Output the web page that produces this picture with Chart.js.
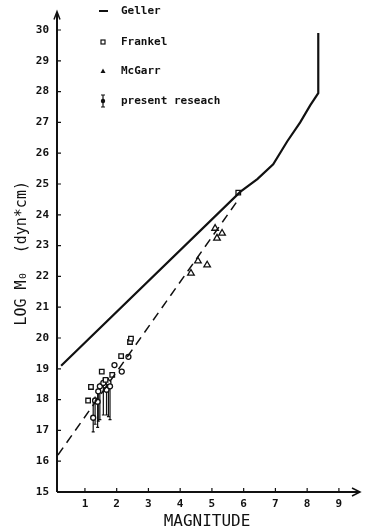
<!DOCTYPE html>
<html>
<head>
<meta charset="utf-8">
<script src="https://cdn.jsdelivr.net/npm/chart.js@4"></script>
<style>
  html, body { margin: 0; padding: 0; background: #fff; }
</style>
</head>
<body>
<canvas id="chart" width="370" height="531"></canvas>
<script>
// tick labels
const xTicks = [1, 2, 3, 4, 5, 6, 7, 8, 9];
const yTicks = [15, 16, 17, 18, 19, 20, 21, 22, 23, 24, 25, 26, 27, 28, 29, 30];

// Geller curve
const gellerMag = [0.25, 5.9, 6.43, 6.93, 7.37, 7.78, 8.1, 8.35, 8.35];
const gellerLog = [19.1, 24.75, 25.16, 25.64, 26.38, 27.0, 27.56, 27.95, 29.9];

// dashed fit line
const fitMag = [0.15, 5.8];
const fitLog = [16.2, 24.45];

// Frankel (squares)
const frankelMag = [1.10, 1.19, 1.53, 1.65, 1.86, 2.14, 2.42, 2.45, 5.83];
const frankelLog = [17.97, 18.41, 18.91, 18.64, 18.8, 19.41, 19.87, 19.98, 24.72];

// McGarr (triangles)
const mcgarrMag = [4.34, 4.56, 4.85, 5.10, 5.16, 5.32];
const mcgarrLog = [22.1, 22.5, 22.37, 23.56, 23.24, 23.4];

// present research (circles with error bars)
const presMag  = [1.26, 1.32, 1.40, 1.42, 1.47, 1.58, 1.68, 1.74, 1.79, 1.93, 2.16, 2.37];
const presLog  = [17.41, 17.97, 17.93, 18.27, 18.43, 18.54, 18.32, 18.56, 18.43, 19.12, 18.91, 19.39];
const presLow  = [16.95, 17.2, 17.1, 17.3, 17.35, 17.5, 17.5, 17.45, 17.35, 19.12, 18.91, 19.39];
const presHigh = [17.95, 18.1, 18.2, 18.4, 18.55, 18.7, 18.5, 18.7, 18.6, 19.12, 18.91, 19.39];

const legendLabels = ["Geller", "Frankel", "McGarr", "present reseach"];

const ink = "#111";
const mono = "'DejaVu Sans Mono', monospace";

function pts(xs, ys) {
  return xs.map((x, i) => ({ x: x, y: ys[i] }));
}

// error bars for the present research points
const errorBars = {
  id: "errorBars",
  beforeDatasetsDraw(chart) {
    const ctx = chart.ctx;
    const xs = chart.scales.x, ys = chart.scales.y;
    ctx.save();
    ctx.strokeStyle = ink;
    ctx.lineWidth = 1.2;
    presMag.forEach((m, i) => {
      if (presLow[i] === presHigh[i]) return;
      const px = xs.getPixelForValue(m);
      const lo = ys.getPixelForValue(presLow[i]);
      const hi = ys.getPixelForValue(presHigh[i]);
      ctx.beginPath();
      ctx.moveTo(px, lo); ctx.lineTo(px, hi);
      ctx.moveTo(px - 1.5, lo); ctx.lineTo(px + 1.5, lo);
      ctx.stroke();
    });
    ctx.restore();
  }
};

// axis lines with arrows and inward ticks
const axes = {
  id: "axes",
  afterDraw(chart) {
    const ctx = chart.ctx;
    const a = chart.chartArea;
    const xs = chart.scales.x, ys = chart.scales.y;
    ctx.save();
    ctx.strokeStyle = ink;
    ctx.fillStyle = ink;
    ctx.lineWidth = 2;
    ctx.beginPath();
    ctx.moveTo(a.left, a.bottom); ctx.lineTo(a.left, a.top - 2);
    ctx.moveTo(a.left, a.bottom); ctx.lineTo(a.right + 2, a.bottom);
    ctx.stroke();
    ctx.lineWidth = 1.5;
    ctx.beginPath();
    ctx.moveTo(a.left - 3, a.top + 5); ctx.lineTo(a.left, a.top - 3); ctx.lineTo(a.left + 3, a.top + 5);
    ctx.moveTo(a.right - 5, a.bottom - 4); ctx.lineTo(a.right + 3, a.bottom); ctx.lineTo(a.right - 5, a.bottom + 4);
    ctx.stroke();
    ctx.lineWidth = 1.2;
    ctx.beginPath();
    xTicks.forEach(v => {
      const p = xs.getPixelForValue(v);
      ctx.moveTo(p, a.bottom); ctx.lineTo(p, a.bottom - 4);
    });
    yTicks.forEach(v => {
      const p = ys.getPixelForValue(v);
      ctx.moveTo(a.left, p); ctx.lineTo(a.left + 4, p);
    });
    ctx.stroke();
    ctx.restore();
  }
};

// legend block at the top
const legendBox = {
  id: "legendBox",
  afterDraw(chart) {
    const ctx = chart.ctx;
    const rows = [11, 42, 71, 101];
    const sx = 103, tx = 121;
    ctx.save();
    ctx.strokeStyle = ink;
    ctx.fillStyle = ink;
    ctx.font = "bold 11px " + mono;
    ctx.textBaseline = "middle";
    legendLabels.forEach((t, i) => ctx.fillText(t, tx, rows[i]));
    // Geller
    ctx.lineWidth = 2;
    ctx.beginPath(); ctx.moveTo(sx - 4, rows[0]); ctx.lineTo(sx + 5, rows[0]); ctx.stroke();
    // Frankel
    ctx.lineWidth = 1.2;
    ctx.strokeRect(sx - 2, rows[1] - 2, 4, 4);
    // McGarr
    ctx.beginPath();
    ctx.moveTo(sx - 2.5, rows[2] + 2); ctx.lineTo(sx, rows[2] - 2.5); ctx.lineTo(sx + 2.5, rows[2] + 2);
    ctx.closePath(); ctx.fill();
    // present research
    ctx.beginPath();
    ctx.moveTo(sx, rows[3] - 6); ctx.lineTo(sx, rows[3] + 6);
    ctx.moveTo(sx - 2, rows[3] - 6); ctx.lineTo(sx + 2, rows[3] - 6);
    ctx.moveTo(sx - 2, rows[3] + 6); ctx.lineTo(sx + 2, rows[3] + 6);
    ctx.stroke();
    ctx.beginPath(); ctx.arc(sx, rows[3], 2.2, 0, Math.PI * 2); ctx.fill();
    ctx.restore();
  }
};

const chart = new Chart(document.getElementById("chart"), {
  type: "scatter",
  data: {
    datasets: [
      {
        label: legendLabels[0],
        data: pts(gellerMag, gellerLog),
        showLine: true,
        borderColor: ink,
        borderWidth: 2.2,
        pointRadius: 0,
        tension: 0
      },
      {
        label: "fit",
        data: pts(fitMag, fitLog),
        showLine: true,
        borderColor: ink,
        borderWidth: 1.5,
        borderDash: [9, 6],
        pointRadius: 0
      },
      {
        label: legendLabels[1],
        data: pts(frankelMag, frankelLog),
        pointStyle: "rect",
        pointRadius: 3.2,
        borderColor: ink,
        borderWidth: 1.3,
        backgroundColor: "#fff"
      },
      {
        label: legendLabels[2],
        data: pts(mcgarrMag, mcgarrLog),
        pointStyle: "triangle",
        pointRadius: 3.8,
        borderColor: ink,
        borderWidth: 1.3,
        backgroundColor: "#fff"
      },
      {
        label: legendLabels[3],
        data: pts(presMag, presLog),
        pointStyle: "circle",
        pointRadius: 2.5,
        borderColor: ink,
        borderWidth: 1.3,
        backgroundColor: "#fff"
      }
    ]
  },
  options: {
    responsive: false,
    animation: false,
    layout: { padding: { top: 8, right: 13, left: 0, bottom: 0 } },
    plugins: {
      legend: { display: false },
      tooltip: { enabled: false }
    },
    scales: {
      x: {
        type: "linear",
        min: 0.12,
        max: 9.57,
        grid: { display: false, drawTicks: false, tickLength: 0 },
        border: { display: false },
        afterBuildTicks: s => { s.ticks = xTicks.map(v => ({ value: v })); },
        afterFit: s => { s.height = 39; },
        ticks: {
          color: ink,
          padding: 6,
          maxRotation: 0,
          font: { family: mono, size: 11, weight: "bold" }
        },
        title: {
          display: true,
          text: "MAGNITUDE",
          color: ink,
          padding: 0,
          font: { family: mono, size: 16 }
        }
      },
      y: {
        type: "linear",
        min: 15,
        max: 30.5,
        grid: { display: false, drawTicks: false, tickLength: 0 },
        border: { display: false },
        afterBuildTicks: s => { s.ticks = yTicks.map(v => ({ value: v })); },
        afterFit: s => { s.width = 57; },
        ticks: {
          color: ink,
          padding: 8,
          font: { family: mono, size: 11, weight: "bold" }
        },
        title: {
          display: true,
          text: "LOG M\u2080  (dyn*cm)",
          color: ink,
          padding: { top: 13, bottom: 0 },
          font: { family: mono, size: 15 }
        }
      }
    }
  },
  plugins: [errorBars, axes, legendBox]
});
</script>
</body>
</html>
